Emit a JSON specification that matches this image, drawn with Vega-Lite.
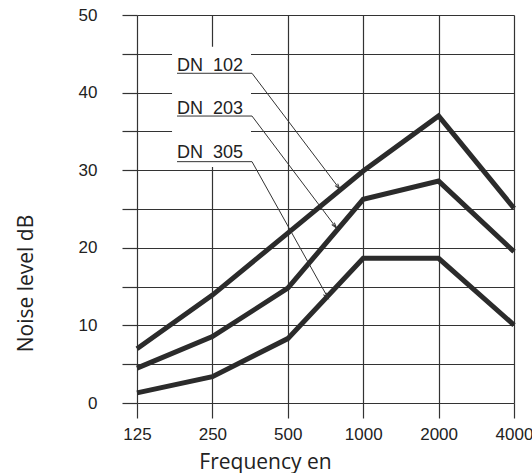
{
  "$schema": "https://vega.github.io/schema/vega-lite/v6.json",
  "width": 377,
  "height": 388,
  "autosize": {"type": "none"},
  "padding": {"left": 137, "top": 15, "right": 18, "bottom": 70},
  "background": "white",
  "config": {"view": {"stroke": null}, "font": "Liberation Sans"},
  "datasets": {
    "noise": [
      {"series": "DN 102", "freq": 125, "value": 7.0},
      {"series": "DN 102", "freq": 250, "value": 13.9},
      {"series": "DN 102", "freq": 500, "value": 21.9},
      {"series": "DN 102", "freq": 1000, "value": 29.9},
      {"series": "DN 102", "freq": 2000, "value": 37.0},
      {"series": "DN 102", "freq": 4000, "value": 25.1},
      {"series": "DN 203", "freq": 125, "value": 4.5},
      {"series": "DN 203", "freq": 250, "value": 8.55},
      {"series": "DN 203", "freq": 500, "value": 14.8},
      {"series": "DN 203", "freq": 1000, "value": 26.25},
      {"series": "DN 203", "freq": 2000, "value": 28.6},
      {"series": "DN 203", "freq": 4000, "value": 19.5},
      {"series": "DN 305", "freq": 125, "value": 1.3},
      {"series": "DN 305", "freq": 250, "value": 3.4},
      {"series": "DN 305", "freq": 500, "value": 8.3},
      {"series": "DN 305", "freq": 1000, "value": 18.65},
      {"series": "DN 305", "freq": 2000, "value": 18.65},
      {"series": "DN 305", "freq": 4000, "value": 10.05}
    ],
    "leaders": [
      {"series": "DN 102", "order": 1, "freq": 180.6, "value": 42.49},
      {"series": "DN 102", "order": 2, "freq": 359.8, "value": 42.49},
      {"series": "DN 102", "order": 3, "freq": 807.9, "value": 27.53},
      {"series": "DN 203", "order": 1, "freq": 180.6, "value": 36.98},
      {"series": "DN 203", "order": 2, "freq": 359.8, "value": 36.98},
      {"series": "DN 203", "order": 3, "freq": 783.8, "value": 22.51},
      {"series": "DN 305", "order": 1, "freq": 180.6, "value": 31.1},
      {"series": "DN 305", "order": 2, "freq": 359.8, "value": 31.1},
      {"series": "DN 305", "order": 3, "freq": 725.6, "value": 13.48}
    ],
    "labels": [
      {"series": "DN 102", "text": "DN\u00a0\u00a0102", "freq": 180.6, "value": 42.78},
      {"series": "DN 203", "text": "DN\u00a0\u00a0203", "freq": 180.6, "value": 37.2},
      {"series": "DN 305", "text": "DN\u00a0\u00a0305", "freq": 180.6, "value": 31.6}
    ],
    "mask": [
      {"freq": 172.5, "freq2": 356.5, "value": 30.4, "value2": 45.9}
    ]
  },
  "layer": [
    {
      "data": {"name": "mask"},
      "mark": {"type": "rect", "fill": "white", "stroke": null},
      "encoding": {
        "x": {
          "field": "freq", "type": "quantitative",
          "scale": {"type": "log", "base": 2, "domain": [125, 4000], "nice": false},
          "axis": {
            "values": [125, 250, 500, 1000, 2000, 4000],
            "tickCount": 20,
            "format": "d",
            "grid": true, "gridColor": "#333333", "gridWidth": 1.2,
            "domain": false,
            "tickSize": 15, "tickColor": "#333333", "tickWidth": 1.2,
            "labelFontSize": 17, "labelPadding": 8, "labelColor": "#222222",
            "labelFlush": false, "labelOverlap": false,
            "title": "Frequency en",
            "titleFont": "Open Sans", "titleFontSize": 21, "titleFontWeight": "normal",
            "titleColor": "#222222",
            "titleX": 128, "titleY": 65, "titleBaseline": "alphabetic", "titleAlign": "center"
          }
        },
        "x2": {"field": "freq2"},
        "y": {
          "field": "value", "type": "quantitative",
          "scale": {"domain": [0, 50], "nice": false},
          "axis": {
            "values": [0, 5, 10, 15, 20, 25, 30, 35, 40, 45, 50],
            "tickCount": 20,
            "labelExpr": "datum.value % 10 == 0 ? datum.label : ''",
            "grid": true, "gridColor": "#333333", "gridWidth": 1.2,
            "domain": false,
            "tickSize": 15, "tickColor": "#333333", "tickWidth": 1.2,
            "labelFontSize": 17, "labelPadding": 25, "labelColor": "#222222",
            "labelBaseline": "middle", "labelOverlap": false,
            "title": "Noise level dB",
            "titleFont": "Open Sans", "titleFontSize": 21, "titleFontWeight": "normal",
            "titleColor": "#222222", "titleAngle": -90,
            "titleX": -105, "titleY": 268, "titleBaseline": "alphabetic", "titleAlign": "center"
          }
        },
        "y2": {"field": "value2"}
      }
    },
    {
      "data": {"name": "noise"},
      "mark": {"type": "line", "color": "#2b2b2b", "strokeWidth": 5, "strokeCap": "butt", "strokeJoin": "miter"},
      "encoding": {
        "x": {"field": "freq", "type": "quantitative"},
        "y": {"field": "value", "type": "quantitative"},
        "detail": {"field": "series"}
      }
    },
    {
      "data": {"name": "leaders"},
      "mark": {"type": "line", "color": "#333333", "strokeWidth": 1},
      "encoding": {
        "x": {"field": "freq", "type": "quantitative"},
        "y": {"field": "value", "type": "quantitative"},
        "detail": {"field": "series"},
        "order": {"field": "order"}
      }
    },
    {
      "data": {"name": "leaders"},
      "transform": [{"filter": "datum.order == 3"}],
      "mark": {"type": "point", "shape": "M -0.8 3 L 0 0 L 0.8 3", "filled": false, "stroke": "#333333", "strokeWidth": 1, "size": 16, "opacity": 1},
      "encoding": {
        "x": {"field": "freq", "type": "quantitative"},
        "y": {"field": "value", "type": "quantitative"},
        "angle": {"field": "series", "type": "nominal", "scale": {"domain": ["DN 102", "DN 203", "DN 305"], "range": [143, 142.6, 151]}, "legend": null}
      }
    },
    {
      "data": {"name": "labels"},
      "mark": {"type": "text", "align": "left", "baseline": "alphabetic", "fontSize": 18, "font": "Liberation Sans", "color": "#222222"},
      "encoding": {
        "x": {"field": "freq", "type": "quantitative"},
        "y": {"field": "value", "type": "quantitative"},
        "text": {"field": "text"}
      }
    }
  ]
}
